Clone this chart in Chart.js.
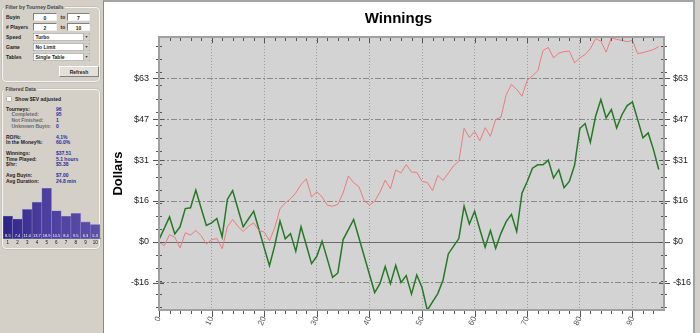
<!DOCTYPE html>
<html lang="en">
<head>
<meta charset="UTF-8">
<title>Winnings</title>
<script src="https://cdn.jsdelivr.net/npm/chart.js"></script>
<style>
  html, body { margin: 0; padding: 0; }
  body {
    width: 700px; height: 333px; overflow: hidden; position: relative;
    background: #d4d0c8;
    font-family: "Liberation Sans", Arial, sans-serif;
  }
  /* side panel is laid out at 2x and scaled down, the text there is tiny */
  #side {
    position: absolute; left: 0; top: 0; width: 206px; height: 666px;
    transform: scale(0.5); transform-origin: 0 0;
    font-size: 10px; font-weight: bold; color: #222;
  }
  #side div { position: absolute; white-space: nowrap; line-height: 12px; }
  #side .fs { border: 2px solid #f4f4f0; border-radius: 8px; box-shadow: 0 0 0 1px #b8b4ac; }
  #side .lg { background: #d4d0c8; padding: 0 3px; color: #444; }
  #side .inp {
    height: 16px; line-height: 16px; background: #fff; text-align: center;
    border: 2px solid; border-color: #808080 #f0f0f0 #f0f0f0 #808080; box-sizing: border-box;
  }
  #side .sel {
    height: 16px; line-height: 14px; background: #fff; padding-left: 4px; width: 114px;
    border: 1px solid #7a7a7a; box-sizing: border-box;
  }
  #side .sel span {
    position: absolute; right: 0; top: 0; width: 12px; height: 14px; background: #d4d0c8;
    border-left: 1px solid #999; font-size: 7px; line-height: 14px; text-align: center; color: #333;
  }
  #side .btn {
    height: 22px; line-height: 20px; text-align: center; box-sizing: border-box;
    background: #e4e0d8; border: 2px solid; border-color: #fff #808080 #808080 #fff;
  }
  #side .sub { color: #6a6a6a; }
  #side .val { color: #2c2c9c; }
  #side .chk { width: 10px; height: 10px; background: #fff; border: 1px solid #808080; box-sizing: border-box; }

  #main {
    position: absolute; left: 103px; top: 0; width: 592px; height: 333px;
    background: #fff; box-sizing: border-box;
    border-left: 1px solid #888; border-top: 2px solid #a4a4a4; border-right: 2px solid #a4a4a4;
  }
  #winChart { position: absolute; left: 0; top: 0; }
  #histChart { position: absolute; left: 2px; top: 183px; }
</style>
</head>
<body>
  <div id="side">
    <div class="fs" style="left:4px;top:14px;width:192px;height:146px"></div>
    <div class="lg" style="left:8px;top:8px">Filter by Tourney Details</div>

    <div style="left:12px;top:28px">Buyin</div>
    <div class="inp" style="left:66px;top:26px;width:48px">0</div>
    <div style="left:121px;top:28px">to</div>
    <div class="inp" style="left:134px;top:26px;width:46px">7</div>

    <div style="left:12px;top:48px"># Players</div>
    <div class="inp" style="left:66px;top:46px;width:48px">2</div>
    <div style="left:121px;top:48px">to</div>
    <div class="inp" style="left:134px;top:46px;width:46px">10</div>

    <div style="left:12px;top:68px">Speed</div>
    <div class="sel" style="left:66px;top:66px">Turbo<span>&#9660;</span></div>
    <div style="left:12px;top:88px">Game</div>
    <div class="sel" style="left:66px;top:86px">No Limit<span>&#9660;</span></div>
    <div style="left:12px;top:108px">Tables</div>
    <div class="sel" style="left:66px;top:106px">Single Table<span>&#9660;</span></div>

    <div class="btn" style="left:118px;top:132px;width:80px">Refresh</div>

    <div class="fs" style="left:4px;top:178px;width:192px;height:316px"></div>
    <div class="lg" style="left:8px;top:172px">Filtered Data</div>

    <div class="chk" style="left:13px;top:193px"></div>
    <div style="left:30px;top:192px">Show $EV adjusted</div>

    <div style="left:12px;top:212px">Tourneys:</div>         <div class="val" style="left:112px;top:212px">96</div>
    <div class="sub" style="left:23px;top:223px">Completed:</div>     <div class="val" style="left:112px;top:223px">95</div>
    <div class="sub" style="left:23px;top:234px">Not Finished:</div>  <div class="val" style="left:112px;top:234px">1</div>
    <div class="sub" style="left:23px;top:246px">Unknown Buyin:</div> <div class="val" style="left:112px;top:246px">0</div>

    <div style="left:12px;top:268px">ROI%:</div>             <div class="val" style="left:112px;top:268px">4.1%</div>
    <div style="left:12px;top:279px">In the Money%:</div>    <div class="val" style="left:112px;top:279px">60.0%</div>

    <div style="left:12px;top:300px">Winnings:</div>         <div class="val" style="left:112px;top:300px">$37.51</div>
    <div style="left:12px;top:312px">Time Played:</div>      <div class="val" style="left:112px;top:312px">5.1 hours</div>
    <div style="left:12px;top:323px">$/hr:</div>             <div class="val" style="left:112px;top:323px">$5.38</div>

    <div style="left:12px;top:344px">Avg Buyin:</div>        <div class="val" style="left:112px;top:344px">$7.00</div>
    <div style="left:12px;top:356px">Avg Duration:</div>     <div class="val" style="left:112px;top:356px">24.8 min</div>
  </div>

  <canvas id="histChart" width="99" height="62"></canvas>

  <div id="main">
    <canvas id="winChart" width="589" height="331"></canvas>
  </div>

<script>
  // tourney number -> cumulative dollars
  const actualWinnings = [
    0.9, 5.2, 9.6, 3.1, 5.8, 12.8, 13.1, 19.9, 13.0, 6.3,
    7.3, 9.0, 1.9, 16.3, 19.7, 12.7, 5.8, 8.8, 11.8, 4.8,
    -2.2, -9.1, -1.4, 8.0, 1.2, 3.2, -3.6, 5.8, -1.2, -8.3,
    -5.5, 0.3, -6.6, -13.6, -11.9, 0.9, 4.7, 8.6, 1.6, -5.4,
    -12.4, -19.4, -16.0, -9.4, -16.0, -9.0, -15.5, -12.9, -20.0, -12.7,
    -17.5, -26.2, -23.0, -19.8, -14.6, -4.6, -1.6, 1.3, 13.7, 6.9,
    11.8, 4.8, -2.0, 4.4, -2.4, 3.3, 7.8, 10.6, 4.0, 18.7,
    23.2, 28.3, 29.6, 29.6, 31.4, 24.5, 27.7, 20.8, 23.2, 29.4,
    43.5, 45.4, 38.2, 48.2, 54.6, 47.6, 50.8, 43.7, 48.8, 52.3,
    53.7, 46.9, 39.9, 41.8, 35.4, 27.8
  ];
  const evWinnings = [
    0.0, -1.4, 2.8, 1.8, -2.3, 3.5, 2.6, 4.4, 2.4, -0.8,
    0.9, 1.3, -2.6, 5.8, 8.6, 6.0, 4.0, 6.0, 7.3, 4.4,
    3.8, 0.5, 5.4, 12.7, 15.0, 16.5, 18.8, 22.0, 24.2, 17.3,
    19.2, 17.3, 14.1, 13.7, 14.4, 18.8, 25.3, 22.7, 21.2, 15.9,
    14.1, 15.6, 19.1, 23.7, 20.4, 27.6, 26.5, 29.7, 26.8, 26.7,
    23.2, 22.8, 19.7, 25.5, 23.6, 26.4, 29.2, 31.0, 43.6, 40.0,
    42.4, 38.8, 43.8, 40.5, 47.0, 47.8, 56.5, 60.4, 58.5, 55.9,
    62.0, 63.7, 65.6, 73.4, 74.6, 70.6, 72.4, 73.0, 73.2, 68.7,
    70.6, 71.9, 74.1, 78.0, 77.0, 72.8, 78.3, 77.7, 77.3, 76.8,
    77.3, 72.2, 72.6, 73.2, 73.8, 74.9
  ];
  const xTickValues = [0, 10, 20, 30, 40, 50, 60, 70, 80, 90];
  const yTickValues = [-15.7, 0, 15.7, 31.4, 47.1, 62.8];

  // finishing position histogram (% of tourneys)
  const placeLabels = ['1', '2', '3', '4', '5', '6', '7', '8', '9', '10'];
  const placePct = [8.5, 7.4, 11.0, 13.7, 18.9, 10.5, 8.4, 9.5, 6.3, 5.3];

  const FONT = '"Liberation Sans", Arial, sans-serif';

  function dollars(v) {
    const r = Math.round(v);
    return r < 0 ? '-$' + Math.abs(r) : '$' + r;
  }

  const plotFrame = {
    id: 'plotFrame',
    beforeDraw(chart) {
      const { ctx, chartArea: a } = chart;
      ctx.save();
      ctx.fillStyle = '#d3d3d3';
      ctx.fillRect(a.left, a.top, a.right - a.left, a.bottom - a.top);
      ctx.restore();
    },
    beforeDatasetsDraw(chart) {
      const { ctx, chartArea: a, scales } = chart;
      const y0 = Math.round(scales.y.getPixelForValue(0)) + 0.5;
      ctx.save();
      ctx.strokeStyle = '#6a6a6a';
      ctx.lineWidth = 1;
      ctx.beginPath();
      ctx.moveTo(a.left, y0);
      ctx.lineTo(a.right, y0);
      ctx.stroke();
      ctx.restore();
    },
    afterDatasetsDraw(chart) {
      const { ctx, chartArea: a, scales } = chart;
      const xs = scales.x, ys = scales.y;
      ctx.save();
      ctx.strokeStyle = '#555';
      ctx.lineWidth = 1;
      ctx.beginPath();
      // minor ticks
      for (let v = 2; v < xs.max; v += 2) {
        const px = Math.round(xs.getPixelForValue(v)) + 0.5;
        ctx.moveTo(px, a.top); ctx.lineTo(px, a.top + 4);
        ctx.moveTo(px, a.bottom); ctx.lineTo(px, a.bottom + 4);
      }
      for (let v = -25; v < ys.max; v += 5) {
        const py = Math.round(ys.getPixelForValue(v)) + 0.5;
        ctx.moveTo(a.left - 3, py); ctx.lineTo(a.left + 3, py);
        ctx.moveTo(a.right - 3, py); ctx.lineTo(a.right + 3, py);
      }
      // major ticks
      xTickValues.forEach(v => {
        const px = Math.round(xs.getPixelForValue(v)) + 0.5;
        ctx.moveTo(px, a.top); ctx.lineTo(px, a.top + 6);
        ctx.moveTo(px, a.bottom); ctx.lineTo(px, a.bottom + 7);
      });
      yTickValues.forEach(v => {
        const py = Math.round(ys.getPixelForValue(v)) + 0.5;
        ctx.moveTo(a.left - 6, py); ctx.lineTo(a.left + 5, py);
        ctx.moveTo(a.right - 5, py); ctx.lineTo(a.right + 6, py);
      });
      ctx.stroke();
      ctx.strokeStyle = '#a0a0a0';
      ctx.lineWidth = 2;
      ctx.strokeRect(a.left, a.top, a.right - a.left, a.bottom - a.top);
      ctx.restore();
    }
  };

  const yCommon = {
    min: -26.1,
    max: 78.6,
    afterBuildTicks: s => { s.ticks = yTickValues.map(v => ({ value: v })); },
    ticks: { callback: v => dollars(v), color: '#222', font: { family: FONT, size: 9 } }
  };

  new Chart(document.getElementById('winChart'), {
    type: 'line',
    data: {
      datasets: [
        {
          label: 'EV Winnings',
          data: evWinnings.map((v, i) => ({ x: i, y: v })),
          borderColor: '#f07a7a',
          borderWidth: 1,
          pointRadius: 0,
          tension: 0
        },
        {
          label: 'Winnings',
          data: actualWinnings.map((v, i) => ({ x: i, y: v })),
          borderColor: '#247a24',
          borderWidth: 1.5,
          pointRadius: 0,
          tension: 0
        }
      ]
    },
    options: {
      responsive: false,
      animation: false,
      layout: { padding: 0 },
      plugins: {
        legend: { display: false },
        tooltip: { enabled: false },
        title: {
          display: true,
          text: 'Winnings',
          color: '#000',
          font: { family: FONT, size: 15, weight: 'bold' },
          padding: { top: 8, bottom: 9 }
        }
      },
      scales: {
        x: {
          type: 'linear',
          min: 0,
          max: 96,
          afterBuildTicks: s => { s.ticks = xTickValues.map(v => ({ value: v })); },
          afterFit: s => { s.height = 23; },
          ticks: {
            minRotation: 65, maxRotation: 65, padding: 5,
            color: '#555', font: { family: FONT, size: 8 }
          },
          grid: { color: '#9c9c9c', drawTicks: false },
          border: { display: false, dash: [1, 2] }
        },
        y: {
          ...yCommon,
          position: 'left',
          afterFit: s => { s.width = 55; },
          ticks: { ...yCommon.ticks, padding: 10 },
          grid: {
            drawTicks: false,
            color: c => (c.tick && c.tick.value === 0) ? 'rgba(0,0,0,0)' : '#8a8a8a'
          },
          border: { display: false, dash: [6, 2, 2, 2] },
          title: {
            display: true, text: 'Dollars', color: '#000',
            font: { family: FONT, size: 13, weight: 'bold' },
            padding: { top: 7, bottom: 0 }
          }
        },
        y2: {
          ...yCommon,
          position: 'right',
          afterFit: s => { s.width = 29; },
          ticks: { ...yCommon.ticks, padding: 9 },
          grid: { display: false, drawTicks: false },
          border: { display: false }
        }
      }
    },
    plugins: [plotFrame]
  });

  const barValues = {
    id: 'barValues',
    afterDatasetsDraw(chart) {
      const { ctx } = chart;
      const meta = chart.getDatasetMeta(0);
      ctx.save();
      ctx.fillStyle = '#fff';
      ctx.font = '4px ' + FONT;
      ctx.textAlign = 'center';
      ctx.textBaseline = 'bottom';
      meta.data.forEach((bar, i) => {
        ctx.fillText(placePct[i].toFixed(1), bar.x, bar.base - 0.5);
      });
      ctx.restore();
    }
  };

  new Chart(document.getElementById('histChart'), {
    type: 'bar',
    data: {
      labels: placeLabels,
      datasets: [{
        data: placePct,
        backgroundColor: c => {
          const a = c.chart.chartArea;
          if (!a) return '#45389a';
          const g = c.chart.ctx.createLinearGradient(a.left, 0, a.right, 0);
          g.addColorStop(0, '#2b2484');
          g.addColorStop(0.4, '#4a3d9e');
          g.addColorStop(1, '#5c50a8');
          return g;
        },
        borderColor: '#8a82c4',
        borderWidth: 0.6,
        barPercentage: 1,
        categoryPercentage: 1
      }]
    },
    options: {
      responsive: false,
      animation: false,
      layout: { padding: { left: 1, right: 1, top: 0, bottom: 0 } },
      plugins: { legend: { display: false }, tooltip: { enabled: false } },
      scales: {
        x: {
          afterFit: s => { s.height = 6.3; },
          grid: { display: false, drawTicks: false },
          border: { color: '#888' },
          ticks: {
            autoSkip: false, minRotation: 0, maxRotation: 0,
            padding: 1, color: '#111', font: { family: FONT, size: 4.5 }
          }
        },
        y: { display: false, min: 0, max: 20.9 }
      }
    },
    plugins: [barValues]
  });
</script>
</body>
</html>
